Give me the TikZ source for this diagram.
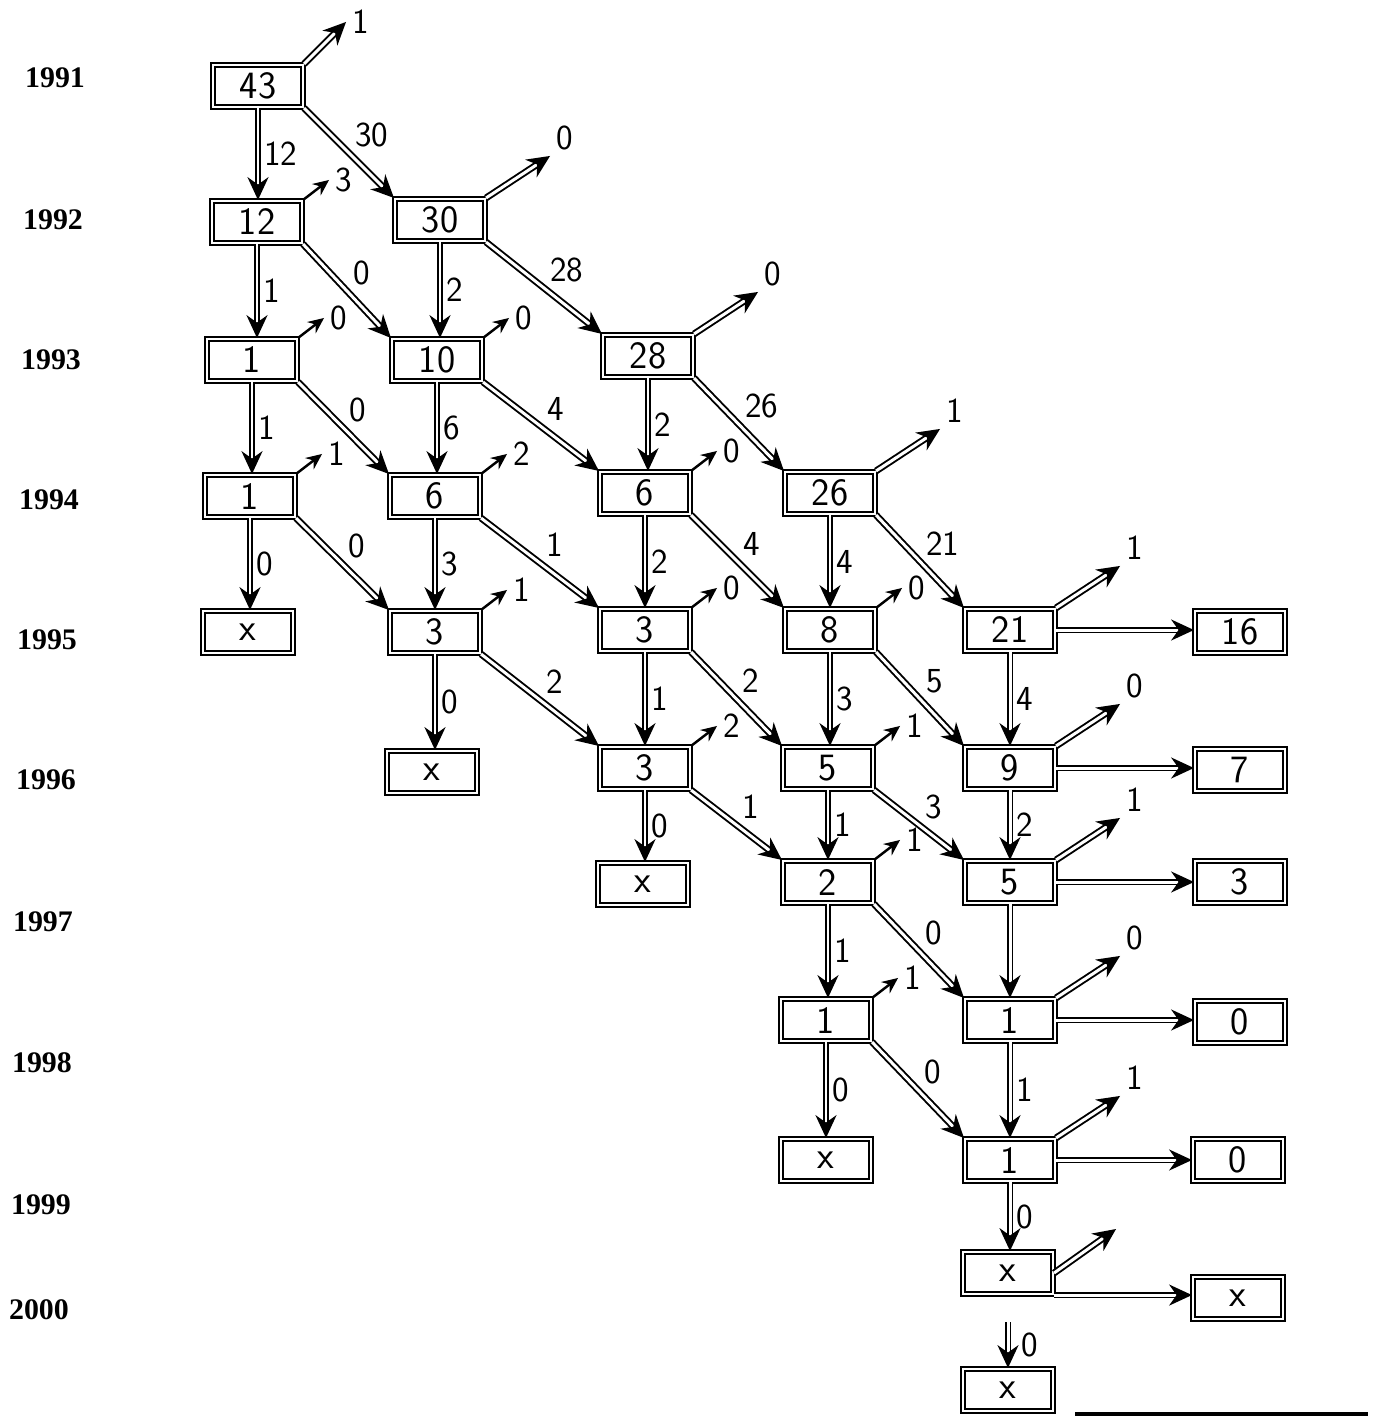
\documentclass[tikz,border=0pt]{standalone}
\usepackage{fontspec}
\setmainfont{Liberation Serif}
\usetikzlibrary{arrows.meta}

\tikzset{
  pop/.style={draw, double, double distance=1.3pt, line width=1.2pt,
    minimum width=1.8cm, minimum height=0.84cm, inner sep=0pt,
    font=\sffamily\fontsize{22}{22}\selectfont},
  flow/.style={double, double distance=1.7pt, line width=1.1pt,
    -{Stealth[length=13pt,width=12pt]}},
  leak/.style={line width=1.4pt, -{Stealth[length=9pt,width=8pt]}},
  num/.style={font=\sffamily\fontsize{20}{20}\selectfont, inner sep=3pt},
  year/.style={font=\bfseries\fontsize{17}{17}\selectfont}
}

\begin{document}
\begin{tikzpicture}[x=0.02cm,y=-0.02cm]
  \useasboundingbox (0,0) rectangle (1373,1418);
  % years
  \foreach \x/\y/\t in {55/78/1991,53/220/1992,51/360/1993,49/500/1994,
      47/640/1995,46/780/1996,43/922/1997,42/1063/1998,41/1205/1999,39/1310/2000}
    \node[year] (y\t) at (\x,\y) {\t};
  % boxes
  \node[pop] (b00) at (258,86) {43};
  \node[pop] (b10) at (257,222) {12};
  \node[pop] (b11) at (440,220) {30};
  \node[pop] (b20) at (252,360) {1};
  \node[pop] (b21) at (437,360) {10};
  \node[pop] (b22) at (648,356) {28};
  \node[pop] (b30) at (250,496) {1};
  \node[pop] (b31) at (435,496) {6};
  \node[pop] (b32) at (645,493) {6};
  \node[pop] (b33) at (830,493) {26};
  \node[pop] (b40) at (248,632) {x};
  \node[pop] (b41) at (435,632) {3};
  \node[pop] (b42) at (645,630) {3};
  \node[pop] (b43) at (830,630) {8};
  \node[pop] (b44) at (1010,630) {21};
  \node[pop] (b51) at (432,772) {x};
  \node[pop] (b52) at (645,768) {3};
  \node[pop] (b53) at (828,768) {5};
  \node[pop] (b54) at (1010,768) {9};
  \node[pop] (b62) at (643,884) {x};
  \node[pop] (b63) at (828,882) {2};
  \node[pop] (b64) at (1010,882) {5};
  \node[pop] (b73) at (826,1020) {1};
  \node[pop] (b74) at (1010,1020) {1};
  \node[pop] (b83) at (826,1160) {x};
  \node[pop] (b84) at (1010,1160) {1};
  \node[pop] (b94) at (1008,1273) {x};
  \node[pop] (b104) at (1008,1390) {x};
  % right column
  \node[pop] (r4) at (1240,632) {16};
  \node[pop] (r5) at (1240,770) {7};
  \node[pop] (r6) at (1240,882) {3};
  \node[pop] (r7) at (1240,1022) {0};
  \node[pop] (r8) at (1238,1160) {0};
  \node[pop] (r9) at (1238,1298) {x};
  % straight down
  \foreach \a/\b/\l in {b00/b10/12,b10/b20/1,b11/b21/2,b20/b30/1,b21/b31/6,
      b22/b32/2,b30/b40/0,b31/b41/3,b32/b42/2,b33/b43/4,b41/b51/0,b42/b52/1,
      b43/b53/3,b44/b54/4,b52/b62/0,b53/b63/1,b54/b64/2,b63/b73/1,b64/b74/{},
      b73/b83/0,b74/b84/1,b84/b94/0}
    \draw[flow] (\a.south) -- node[num,midway,right] {\l} (\a.south |- \b.north);
  % down the diagonal
  \foreach \a/\b/\l in {b00/b11/30,b10/b21/0,b11/b22/28,b20/b31/0,b21/b32/4,
      b22/b33/26,b30/b41/0,b31/b42/1,b32/b43/4,b33/b44/21,b41/b52/2,b42/b53/2,
      b43/b54/5,b52/b63/1,b53/b64/3,b63/b74/0,b73/b84/0}
    \draw[flow] (\a.south east) -- node[num,midway,above right] {\l} (\b.north west);
  % to the right column
  \foreach \a/\b in {b44/r4,b54/r5,b64/r6,b74/r7,b84/r8}
    \draw[flow] (\a.east) -- (\a.east -| \b.west);
  \draw[flow] (b94.south east) -- (b94.south east -| r9.west);
  % long leaks
  \draw[flow] (b00.north east) -- ++(42,-42) node[num,right] {1};
  \foreach \a/\l in {b11/0,b22/0,b33/1,b44/1,b54/0,b64/1,b74/0,b84/1}
    \draw[flow] (\a.north east) -- ++(64,-42) node[num,above right] {\l};
  \draw[flow] (b94.east) -- ++(62,-44);
  % short leaks
  \foreach \a/\l in {b10/3,b20/0,b21/0,b30/1,b31/2,b32/0,b41/1,b42/0,b43/0,
      b52/2,b53/1,b63/1,b73/1}
    \draw[leak] (\a.north east) -- ++(26,-20) node[num,right] {\l};
  % last step
  \coordinate (c94) at (1008,1322);
  \draw[flow] (c94) -- node[num,midway,right,xshift=4pt] {0} (b104.north);
  \draw[line width=2.4pt] (1075,1414) -- (1368,1414);
\end{tikzpicture}
\end{document}
